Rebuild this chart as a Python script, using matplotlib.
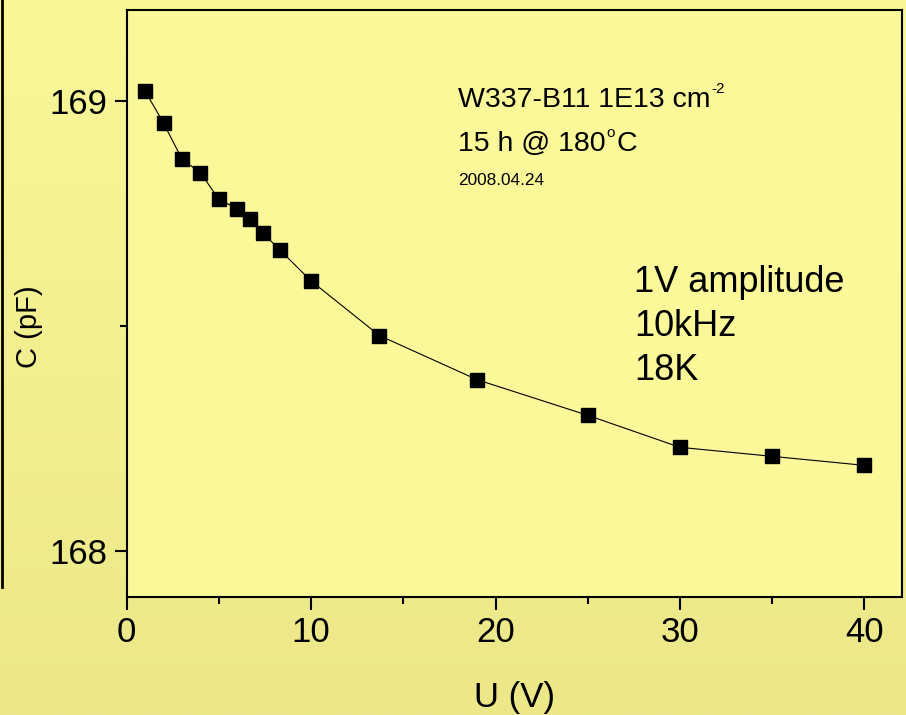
import numpy as np
import matplotlib
matplotlib.use("Agg")
import matplotlib.pyplot as plt
from matplotlib.lines import Line2D

# bias voltage (V) and capacitance (pF)
voltage = [1, 2, 3, 4, 5, 6, 6.7, 7.4, 8.3, 10, 13.7, 19, 25, 30, 35, 40]
capacitance = [169.021, 168.950, 168.870, 168.840, 168.781, 168.760, 168.737,
               168.706, 168.669, 168.600, 168.479, 168.381, 168.302, 168.231,
               168.211, 168.191]

x_ticks = [0, 10, 20, 30, 40]
y_ticks = [168, 169]

# annotation pieces: (main text, superscript, text after superscript)
sample_lines = [("W337-B11 1E13 cm", "-2", ""), ("15 h @ 180", "o", "C")]
date_text = "2008.04.24"
conditions = "1V amplitude\n10kHz\n18K"

plt.rcParams["font.family"] = ["Liberation Sans", "DejaVu Sans"]

W, H = 906, 715
fig = plt.figure(figsize=(W / 100, H / 100), dpi=100)

# background gradient over the whole slide
bg = fig.add_axes([0, 0, 1, 1], zorder=-10)
top = np.array([249, 247, 152]) / 255
bot = np.array([236, 232, 138]) / 255
t = np.linspace(0, 1, 256)[:, None, None]
grad = top * (1 - t) + bot * t
bg.imshow(grad, aspect="auto", extent=[0, 1, 0, 1])
bg.axis("off")

# vertical rule at the left edge
fig.add_artist(Line2D([2 / W, 2 / W], [1, 1 - 587 / H], color="black", lw=2,
                      transform=fig.transFigure))

left, right, top_px, bottom_px = 126.7, 902, 10, 597
ax = fig.add_axes([left / W, 1 - bottom_px / H, (right - left) / W,
                   (bottom_px - top_px) / H])
ax.set_facecolor("#FAF898")

ax.plot(voltage, capacitance, color="black", lw=0.8, marker="s",
        markersize=9.5, markerfacecolor="black", markeredgecolor="black")

ax.set_xlim(0, 42.04)
ax.set_ylim(167.899, 169.201)
ax.set_xticks(x_ticks)
ax.set_yticks(y_ticks)
ax.set_xticks([5, 15, 25, 35], minor=True)
ax.set_yticks([168.5], minor=True)
ax.tick_params(which="major", direction="out", length=9, width=1.5,
               labelsize=25, pad=5)
ax.tick_params(which="minor", direction="out", length=5, width=1.5)
for sp in ax.spines.values():
    sp.set_linewidth(1.5)

fig.text(514 / W, 1 - 707 / H, "U (V)", fontsize=25, ha="center",
         va="baseline")
fig.text(29 / W, 1 - 327 / H, "C (pF)", fontsize=21, ha="center",
         va="center", rotation=90)

renderer = fig.canvas.get_renderer()
for (main, sup, tail), base in zip(sample_lines, [107, 151]):
    t1 = fig.text(458 / W, 1 - base / H, main, fontsize=20.5, va="baseline")
    x1 = t1.get_window_extent(renderer).x1
    t2 = fig.text((x1 + 1) / W, 1 - (base - 14) / H, sup, fontsize=11,
                  va="baseline")
    x2 = t2.get_window_extent(renderer).x1
    if tail:
        fig.text((x2 + 1) / W, 1 - base / H, tail, fontsize=20.5,
                 va="baseline")
fig.text(458 / W, 1 - 185 / H, date_text, fontsize=12.4, va="baseline")

for i, line in enumerate(conditions.split("\n")):
    fig.text(634 / W, 1 - (292 + 44 * i) / H, line, fontsize=26,
             va="baseline")

fig.savefig("out.png", dpi=100)
